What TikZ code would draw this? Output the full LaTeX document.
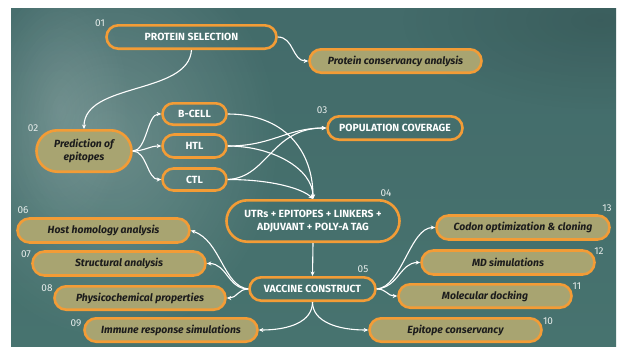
\documentclass[tikz,border=0pt]{standalone}
\usepackage{fontspec}
\setmainfont{Fira Sans}
\usetikzlibrary{shapes.misc,arrows.meta,fadings}
\definecolor{org}{HTML}{F39C36}
\definecolor{khaki}{HTML}{A8A471}
\definecolor{txtdark}{HTML}{1C1C1C}
\definecolor{numc}{HTML}{E6ECEA}
\definecolor{bgtop}{HTML}{436B6A}
\definecolor{bgmid}{HTML}{63918C}
\definecolor{bgbot}{HTML}{47736F}
\tikzfading[name=glow, inner color=transparent!0, outer color=transparent!100]
\begin{document}
\begin{tikzpicture}[x=1pt,y=-1pt,
  box/.style={rounded rectangle, draw=org, line width=2.6pt, inner sep=0pt, align=center},
  tbox/.style={box, text=white, font=\bfseries\fontsize{10.4}{12.5}\selectfont},
  kbox/.style={box, fill=khaki, text=txtdark, font=\bfseries\itshape\fontsize{10.4}{12.5}\selectfont},
  num/.style={text=numc, font=\fontsize{10}{10}\selectfont, inner sep=0pt},
  arr/.style={draw=white, line width=1.1pt, -{Stealth[length=4.5pt,width=4pt]}},
]
\useasboundingbox (0,0) rectangle (618,346);
\fill[white] (0,0) rectangle (618,346);
% background
\begin{scope}
\clip (11,8) rectangle (616,346);
\shade[top color=bgtop, middle color=bgmid, bottom color=bgbot] (11,8) rectangle (616,346);
\fill[white, opacity=0.2, path fading=glow] (110,140) ellipse (170 and 200);
\fill[white, opacity=0.12, path fading=glow] (60,110) ellipse (70 and 130);
\fill[black, opacity=0.12, path fading=glow] (600,20) ellipse (200 and 90);
\end{scope}

% nodes
\node[tbox, minimum width=170, minimum height=23.4] (ps) at (191.5,37) {PROTEIN SELECTION};
\node[kbox, minimum width=172, minimum height=23.4] (pca) at (395.5,61) {Protein conservancy analysis};
\node[tbox, minimum width=135, minimum height=23.4] (pop) at (395,128) {POPULATION COVERAGE};
\node[tbox, minimum width=64, minimum height=21.4] (bcell) at (194.5,114) {B-CELL};
\node[tbox, minimum width=64, minimum height=23] (htl) at (194.5,146) {HTL};
\node[tbox, minimum width=64, minimum height=22] (ctl) at (194.5,179.5) {CTL};
\node[kbox, minimum width=95, minimum height=41.4] (pred) at (84,151) {Prediction of\\epitopes};
\node[tbox, minimum width=173, minimum height=41.4] (utr) at (313,221) {UTRs + EPITOPES + LINKERS +\\ADJUVANT + POLY-A TAG};
\node[tbox, minimum width=126, minimum height=23.4] (vac) at (312.5,289) {VACCINE CONSTRUCT};
\node[kbox, minimum width=172, minimum height=24] (hha) at (103.5,230.5) {Host homology analysis};
\node[kbox, minimum width=173, minimum height=24] (sa) at (119,263.5) {Structural analysis};
\node[kbox, minimum width=171, minimum height=23.4] (pp) at (140,298) {Physicochemical properties};
\node[kbox, minimum width=173, minimum height=23.4] (irs) at (171,330) {Immune response simulations};
\node[kbox, minimum width=173, minimum height=24] (coc) at (523,227.5) {Codon optimization \& cloning};
\node[kbox, minimum width=173, minimum height=24] (md) at (508,262.5) {MD simulations};
\node[kbox, minimum width=173, minimum height=23.4] (mdock) at (485,296) {Molecular docking};
\node[kbox, minimum width=172, minimum height=23.4] (ec) at (455.5,330) {Epitope conservancy};

% numbers
\node[num] (n01) at (100,23) {01};
\node[num] (n02) at (33,128) {02};
\node[num] (n03) at (322,110) {03};
\node[num] (n04) at (386,193) {04};
\node[num] (n05) at (363,269) {05};
\node[num] (n06) at (23,210) {06};
\node[num] (n07) at (26,254) {07};
\node[num] (n08) at (47,288) {08};
\node[num] (n09) at (76,323) {09};
\node[num] (n10) at (548,321) {10};
\node[num] (n11) at (577,286) {11};
\node[num] (n12) at (599,251) {12};
\node[num] (n13) at (607,208) {13};

% connectors
\draw[arr] (ps.east) .. controls +(16,0) and +(-16,0) .. (pca.west);
\draw[arr] (ps.south) .. controls +(-3,45) and +(0,-47) .. (pred.north);
\draw[arr] (pred.east) .. controls +(14,0) and +(-14,0) .. (bcell.west);
\draw[arr] (pred.east) .. controls +(12,0) and +(-12,0) .. (htl.west);
\draw[arr] (pred.east) .. controls +(14,0) and +(-14,0) .. (ctl.west);
\draw[arr] (bcell.east) .. controls +(55,0) and +(0,-50) .. (utr.north);
\draw[arr] (htl.east) .. controls +(45,0) and +(0,-30) .. (utr.north);
\draw[arr] (ctl.east) .. controls +(45,0) and +(-10,-10) .. (utr.north);
\draw[arr] (htl.east) .. controls +(45,0) and +(-40,0) .. (pop.west);
\draw[arr] (ctl.east) .. controls +(40,-2) and +(-55,0) .. (pop.west);
\draw[arr] (utr.south) -- (vac.north);
\draw[arr] (vac.west) .. controls +(-25,-3) and +(30,10) .. (hha.east);
\draw[arr] (vac.west) .. controls +(-20,0) and +(20,0) .. (sa.east);
\draw[arr] (vac.west) .. controls +(-10,0) and +(10,0) .. (pp.east);
\draw[arr] (vac.south) .. controls +(0,20) and +(30,0) .. (irs.east);
\draw[arr] (vac.south) .. controls +(0,20) and +(-30,0) .. (ec.west);
\draw[arr] (vac.east) .. controls +(25,-2) and +(-25,0) .. (coc.west);
\draw[arr] (vac.east) .. controls +(22,-2) and +(-20,0) .. (md.west);
\draw[arr] (vac.east) .. controls +(10,0) and +(-10,0) .. (mdock.west);
\end{tikzpicture}
\end{document}
